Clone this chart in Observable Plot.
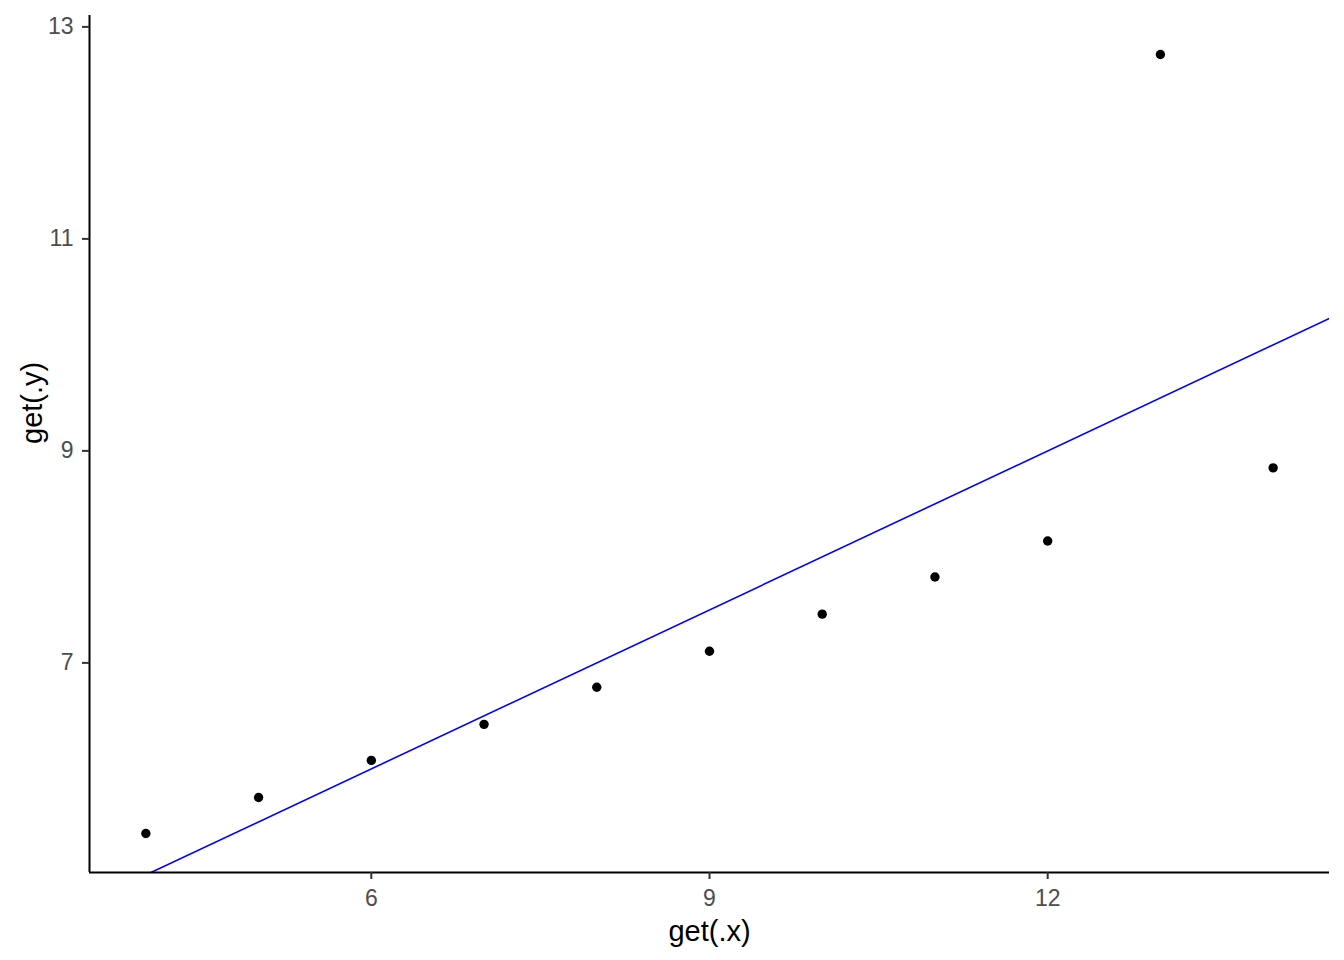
<!DOCTYPE html>
<html>
<head>
<meta charset="utf-8">
<script src="https://cdn.jsdelivr.net/npm/d3@7"></script>
<script src="https://cdn.jsdelivr.net/npm/@observablehq/plot@0.6"></script>
<style>
  html, body { margin: 0; padding: 0; background: #fff; }
  svg { display: block; }
</style>
</head>
<body>
<div id="chart"></div>
<script>
const xs = [10, 8, 13, 9, 11, 14, 6, 4, 12, 7, 5];
const ys = [7.46, 6.77, 12.74, 7.11, 7.81, 8.84, 6.08, 5.39, 8.15, 6.42, 5.73];
const xTicks = [6, 9, 12];
const yTicks = [7, 9, 11, 13];
const xLabel = "get(.x)";
const yLabel = "get(.y)";

const data = xs.map((x, i) => ({x, y: ys[i]}));

// ggplot-like 5% expansion
function expand(vals) {
  const [a, b] = d3.extent(vals);
  const p = (b - a) * 0.05;
  return [a - p, b + p];
}
const xDom = expand(xs);
const yDom = expand(ys);

// reference line (least squares fit, rounded like abline(3, 0.5))
const mx = d3.mean(xs), my = d3.mean(ys);
const slope = d3.sum(xs, (x, i) => (x - mx) * (ys[i] - my)) / d3.sum(xs, x => (x - mx) ** 2);
const intercept = my - slope * mx;
const sR = Math.round(slope * 100) / 100;
const iR = Math.round(intercept * 100) / 100;
const lineData = xDom.map(x => ({x, y: iR + sR * x}));

const font = "'Liberation Sans', Arial, sans-serif";

const chart = Plot.plot({
  width: 1344,
  height: 960,
  marginLeft: 89,
  marginRight: 15,
  marginTop: 15,
  marginBottom: 88,
  style: {fontFamily: font, fontSize: "23px", background: "#fff"},
  x: {domain: xDom},
  y: {domain: yDom},
  marks: [
    Plot.line(lineData, {x: "x", y: "y", stroke: "#0000ff", strokeWidth: 1.6, clip: true}),
    Plot.dot(data, {x: "x", y: "y", r: 4.7, fill: "#000", stroke: "none"}),
    Plot.ruleX([xDom[0]], {stroke: "#000", strokeWidth: 2}),
    Plot.ruleY([yDom[0]], {stroke: "#000", strokeWidth: 2}),
    Plot.axisX({ticks: xTicks, tickSize: 7, tickPadding: 10, fontSize: 23, label: null, stroke: "#333", strokeWidth: 2, color: "#4d4d4d"}),
    Plot.axisY({ticks: yTicks, tickSize: 7, tickPadding: 9, fontSize: 23, label: null, stroke: "#333", strokeWidth: 2, color: "#4d4d4d"}),
    Plot.text([xLabel], {frameAnchor: "bottom", dy: 59, text: d => d, fontSize: 29, fill: "#000", lineAnchor: "middle"}),
    Plot.text([yLabel], {frameAnchor: "left", dx: -57, text: d => d, fontSize: 29, fill: "#000", rotate: -90, lineAnchor: "middle"})
  ]
});
document.getElementById("chart").append(chart);
</script>
</body>
</html>
